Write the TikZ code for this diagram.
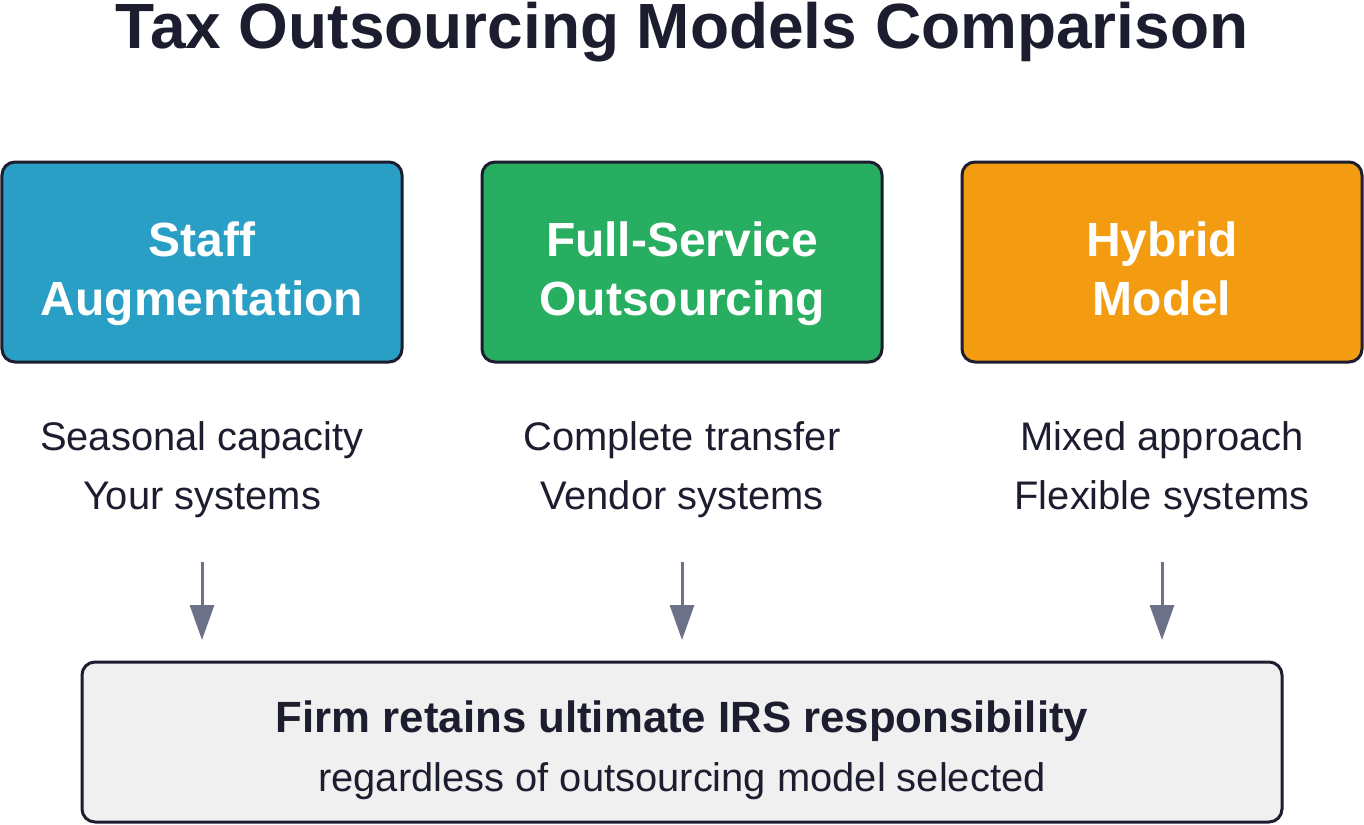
\documentclass[tikz,border=0pt]{standalone}
\usepackage{fontspec}
\setmainfont{Liberation Sans}
\usetikzlibrary{positioning, arrows.meta}
\definecolor{inkdark}{HTML}{1C1D2E}
\definecolor{staffblue}{HTML}{2A9FC6}
\definecolor{fullgreen}{HTML}{27AE60}
\definecolor{hybridorange}{HTML}{F39C12}
\definecolor{basegray}{HTML}{F0F0F0}
\definecolor{flowgray}{HTML}{6C7089}
\newcommand{\topgap}[1]{\rule{0pt}{#1}}
\newcommand{\lowgap}{\rule[-0.2cm]{0pt}{0pt}}
\tikzset{
    model/.style = {rectangle, rounded corners=0.26cm, draw=inkdark, line width=0.06cm,
                        minimum width=8cm, minimum height=4cm, align=center,
                        text=white, font=\fontsize{27.3}{33.5}\selectfont\bfseries},
    detail/.style = {align=center, text=inkdark, font=\fontsize{22.7}{33.5}\selectfont},
    flow/.style = {-{Triangle[width=0.48cm, length=0.7cm]}, draw=flowgray, line width=0.06cm}
}
\begin{document}
\begin{tikzpicture}
			\useasboundingbox (0,0) rectangle (27.28,-16.48);
			\node (title) [anchor=base, text=inkdark, font=\fontsize{36.4}{40}\selectfont\bfseries] at (13.64,-0.97) {Tax Outsourcing Models Comparison};
			\node (staff) [model, fill=staffblue] at (4.04,-5.24) {\topgap{1.17cm}Staff\\Augmentation\lowgap};
			\node (full) [model, fill=fullgreen] at (13.64,-5.24) {\topgap{1.17cm}Full-Service\\Outsourcing\lowgap};
			\node (hybrid) [model, fill=hybridorange] at (23.24,-5.24) {\topgap{1.17cm}Hybrid\\Model\lowgap};
			\node (staffdesc) [detail] at (4.04,-9.39) {Seasonal capacity\\Your systems};
			\node (fulldesc) [detail] at (13.64,-9.39) {Complete transfer\\Vendor systems};
			\node (hybriddesc) [detail] at (23.24,-9.39) {Mixed approach\\Flexible systems};
			\node (base) [rectangle, rounded corners=0.26cm, draw=inkdark, line width=0.06cm, fill=basegray,
				minimum width=24cm, minimum height=3.2cm, align=center, text=inkdark,
				font=\fontsize{22.7}{33.5}\selectfont] at (13.64,-14.84)
				{\topgap{0.95cm}{\fontsize{24.9}{33.5}\selectfont\bfseries Firm retains ultimate IRS responsibility}\\
				regardless of outsourcing model selected};
			\coordinate (staffin) at (4.04,-12.8);
			\coordinate (fullin) at (13.64,-12.8);
			\coordinate (hybridin) at (23.24,-12.8);
			\draw [flow] (staffdesc.south |- 0,-11.24) -- (staffin);
			\draw [flow] (fulldesc.south |- 0,-11.24) -- (fullin);
			\draw [flow] (hybriddesc.south |- 0,-11.24) -- (hybridin);
		\end{tikzpicture}
\end{document}
